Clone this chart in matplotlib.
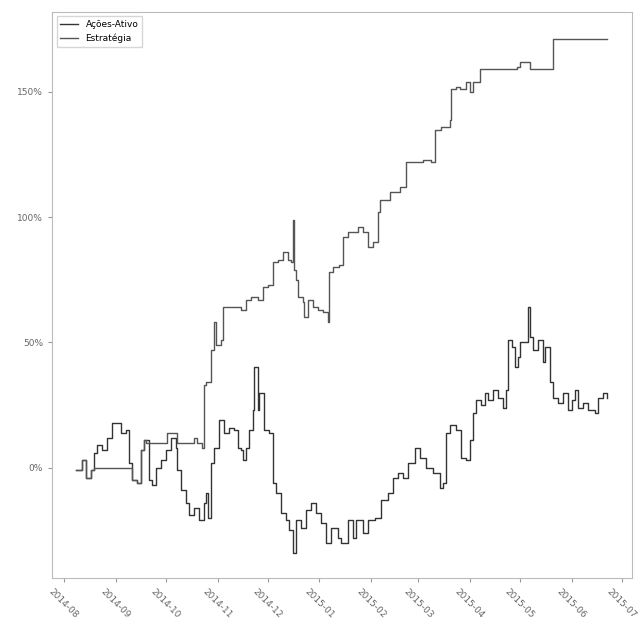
import matplotlib
matplotlib.use("Agg")
import matplotlib.pyplot as plt
import matplotlib.dates as mdates
from matplotlib.ticker import PercentFormatter
import pandas as pd

# serie do ativo (retorno acumulado, %)
ativo_datas = [
    "2014-08-08", "2014-08-12", "2014-08-14", "2014-08-17", "2014-08-19", "2014-08-21",
    "2014-08-24", "2014-08-27", "2014-08-30", "2014-09-02", "2014-09-04", "2014-09-07",
    "2014-09-09", "2014-09-11", "2014-09-14", "2014-09-16", "2014-09-18", "2014-09-21",
    "2014-09-23", "2014-09-25", "2014-09-28", "2014-10-01", "2014-10-04", "2014-10-07",
    "2014-10-08", "2014-10-10", "2014-10-13", "2014-10-15", "2014-10-18", "2014-10-21",
    "2014-10-24", "2014-10-25", "2014-10-26", "2014-10-28", "2014-10-30", "2014-11-02",
    "2014-11-05", "2014-11-08", "2014-11-11", "2014-11-13", "2014-11-15", "2014-11-16",
    "2014-11-18", "2014-11-20", "2014-11-22", "2014-11-23", "2014-11-25", "2014-11-26",
    "2014-11-29", "2014-12-02", "2014-12-04", "2014-12-06", "2014-12-09", "2014-12-12",
    "2014-12-14", "2014-12-16", "2014-12-18", "2014-12-21", "2014-12-24", "2014-12-27",
    "2014-12-30", "2015-01-02", "2015-01-05", "2015-01-08", "2015-01-12", "2015-01-14",
    "2015-01-18", "2015-01-21", "2015-01-23", "2015-01-27", "2015-01-30", "2015-02-03",
    "2015-02-07", "2015-02-11", "2015-02-14", "2015-02-17", "2015-02-20", "2015-02-23",
    "2015-02-27", "2015-03-02", "2015-03-06", "2015-03-10", "2015-03-14", "2015-03-16",
    "2015-03-18", "2015-03-20", "2015-03-24", "2015-03-27", "2015-03-30", "2015-04-01",
    "2015-04-03", "2015-04-05", "2015-04-08", "2015-04-10", "2015-04-12", "2015-04-15",
    "2015-04-18", "2015-04-21", "2015-04-23", "2015-04-24", "2015-04-26", "2015-04-28",
    "2015-04-30", "2015-05-01", "2015-05-04", "2015-05-06", "2015-05-07", "2015-05-09",
    "2015-05-12", "2015-05-15", "2015-05-16", "2015-05-18", "2015-05-19", "2015-05-21",
    "2015-05-24", "2015-05-27", "2015-05-30", "2015-06-01", "2015-06-03", "2015-06-05",
    "2015-06-08", "2015-06-11", "2015-06-15", "2015-06-17", "2015-06-20", "2015-06-22",
]
ativo_ret = [
    -1, 3, -4, -1, 6, 9,
    7, 12, 18, 18, 14, 15,
    2, -5, -6, 7, 11, -5,
    -7, 0, 3, 7, 12, 8,
    -1, -9, -14, -19, -16, -21,
    -14, -10, -20, 2, 8, 19,
    14, 16, 15, 8, 7, 3,
    8, 15, 23, 40, 23, 30,
    15, 14, -6, -10, -18, -21,
    -25, -34, -21, -24, -17, -14,
    -18, -22, -30, -24, -28, -30,
    -21, -28, -21, -26, -21, -20,
    -13, -10, -4, -2, -4, 2,
    8, 4, 0, -2, -8, -6,
    14, 17, 15, 4, 3, 11,
    22, 27, 25, 30, 27, 31,
    28, 24, 31, 51, 48, 40,
    44, 50, 50, 64, 52, 47,
    51, 42, 48, 48, 34, 28,
    26, 30, 23, 27, 31, 24,
    26, 23, 22, 28, 30, 28,
]

# serie da estrategia (retorno acumulado, %)
estr_datas = [
    "2014-08-08", "2014-08-12", "2014-08-14", "2014-08-17", "2014-08-19", "2014-09-09",
    "2014-09-11", "2014-09-14", "2014-09-16", "2014-09-18", "2014-09-19", "2014-10-02",
    "2014-10-08", "2014-10-18", "2014-10-20", "2014-10-23",
    "2014-10-24", "2014-10-25", "2014-10-28", "2014-10-30", "2014-10-31",
    "2014-11-03", "2014-11-04", "2014-11-15", "2014-11-18", "2014-11-21", "2014-11-25",
    "2014-11-28", "2014-12-01", "2014-12-04", "2014-12-07", "2014-12-10", "2014-12-13",
    "2014-12-15", "2014-12-16", "2014-12-17", "2014-12-18", "2014-12-19", "2014-12-22",
    "2014-12-23", "2014-12-25", "2014-12-28", "2014-12-31", "2015-01-03", "2015-01-06",
    "2015-01-07", "2015-01-09", "2015-01-13", "2015-01-15", "2015-01-18", "2015-01-24",
    "2015-01-27", "2015-01-30", "2015-02-02", "2015-02-05", "2015-02-06", "2015-02-12",
    "2015-02-18", "2015-02-22", "2015-03-02", "2015-03-04", "2015-03-09", "2015-03-11",
    "2015-03-15", "2015-03-20", "2015-03-21", "2015-03-24", "2015-03-26", "2015-03-30",
    "2015-04-01", "2015-04-03", "2015-04-07", "2015-04-29", "2015-05-01", "2015-05-06",
    "2015-05-07", "2015-05-20", "2015-05-21", "2015-06-22",
]
estr_ret = [
    -1, 3, -4, -1, 0, 0,
    -5, -6, 7, 11, 10, 14,
    10, 12, 10, 8,
    33, 34, 47, 58, 49,
    51, 64, 63, 67, 68, 67,
    72, 73, 82, 83, 86, 83,
    82, 99, 79, 75, 68, 66,
    60, 67, 64, 63, 62, 58,
    78, 80, 81, 92, 94, 96,
    94, 88, 90, 102, 107, 110,
    112, 122, 122, 123, 122, 135,
    136, 139, 151, 152, 151, 154,
    150, 154, 159, 160, 162, 162,
    159, 159, 171, 171,
]

legenda = ["Ações-Ativo", "Estratégia"]

fig = plt.figure(figsize=(6.44, 6.24), dpi=100)
ax = fig.add_axes([0.081, 0.074, 0.9, 0.907])

ax.plot(pd.to_datetime(ativo_datas), ativo_ret, color="#333333", lw=1.0,
        drawstyle="steps-post", label=legenda[0])
ax.plot(pd.to_datetime(estr_datas), estr_ret, color="#555555", lw=1.0,
        drawstyle="steps-post", label=legenda[1])

ax.set_ylim(-44, 182)
ax.set_xlim(pd.Timestamp("2014-07-25"), pd.Timestamp("2015-07-07"))
ax.set_yticks([0, 50, 100, 150])
ax.yaxis.set_major_formatter(PercentFormatter(decimals=0))
ax.xaxis.set_major_locator(mdates.MonthLocator())
ax.xaxis.set_major_formatter(mdates.DateFormatter("%Y-%m"))

for s in ax.spines.values():
    s.set_color("#bbbbbb")
ax.tick_params(colors="#999999", labelcolor="#666666", labelsize=6.5, length=3)
plt.setp(ax.get_xticklabels(), rotation=-45, ha="center")

leg = ax.legend(loc="upper left", fontsize=6.5, frameon=True, fancybox=False,
                edgecolor="#cccccc")

fig.savefig("out.png", dpi=100)
